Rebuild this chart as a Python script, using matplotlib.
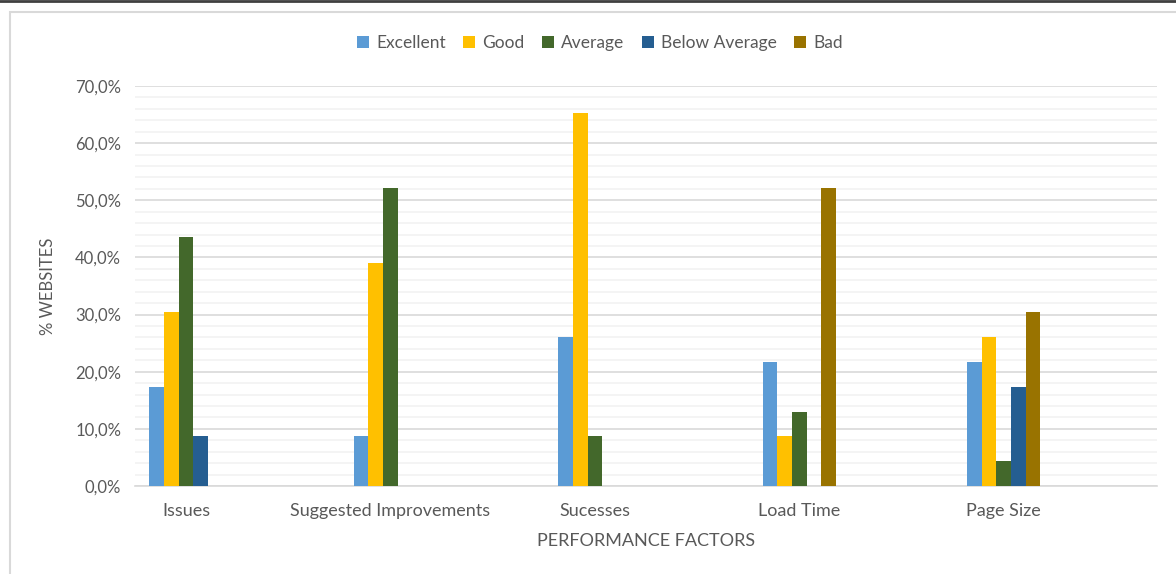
import matplotlib.pyplot as plt
from matplotlib.patches import Rectangle
from matplotlib.ticker import MultipleLocator, FuncFormatter
import numpy as np

plt.rcParams['font.family'] = ['Lato', 'DejaVu Sans']

categories = ["Issues", "Suggested Improvements", "Sucesses", "Load Time", "Page Size"]
series = ["Excellent", "Good", "Average", "Below Average", "Bad"]
excellent = [17.4, 8.7, 26.1, 21.7, 21.7]
good = [30.4, 39.1, 65.2, 8.7, 26.1]
average = [43.5, 52.2, 8.7, 13.0, 4.3]
below_average = [8.7, 0.0, 0.0, 0.0, 17.4]
bad = [0.0, 0.0, 0.0, 52.2, 30.4]
values = [excellent, good, average, below_average, bad]
colors = ["#5B9BD5", "#FFC000", "#43682B", "#255E91", "#997300"]

text_color = "#595959"

fig = plt.figure(figsize=(11.76, 5.74), dpi=100)
ax = fig.add_axes([135 / 1176, 1 - 486 / 574, 1022 / 1176, 400 / 574])

x = np.arange(len(categories))
w = 0.072
for i, (name, vals, c) in enumerate(zip(series, values, colors)):
    ax.bar(x + (i - 2) * w, vals, width=w, color=c, label=name, zorder=3)

ax.set_xlim(-0.25, len(categories) - 0.25)
ax.set_ylim(0, 70)
ax.yaxis.set_major_locator(MultipleLocator(10))
ax.yaxis.set_minor_locator(MultipleLocator(2))
ax.yaxis.set_major_formatter(FuncFormatter(lambda v, p: f"{v:.1f}%".replace(".", ",")))
ax.grid(axis='y', which='major', color="#D9D9D9", linewidth=1.2, zorder=0)
ax.grid(axis='y', which='minor', color="#F2F2F2", linewidth=1.2, zorder=0)
for s in ["top", "right", "left"]:
    ax.spines[s].set_visible(False)
ax.spines["bottom"].set_color("#D9D9D9")
ax.spines["bottom"].set_linewidth(1.2)
ax.tick_params(axis='both', which='both', length=0, colors=text_color, labelsize=12)
ax.tick_params(axis='x', pad=12, labelsize=13)
ax.tick_params(axis='y', pad=10)
ax.set_xticks(x)
ax.set_xticklabels(categories)

ax.set_ylabel("% WEBSITES", color=text_color, fontsize=12, labelpad=14)
ax.set_xlabel("PERFORMANCE FACTORS", color=text_color, fontsize=13, labelpad=10)

ax.legend(loc="center", bbox_to_anchor=(600 / 1176, 1 - 43 / 574), bbox_transform=fig.transFigure,
          ncol=5, frameon=False, fontsize=12.5, labelcolor=text_color,
          handlelength=0.7, handleheight=0.7, handletextpad=0.4, columnspacing=1.0)

# chart border and window edge
fig.add_artist(Rectangle((10 / 1176, -0.05), 1.2, 1 - 12 / 574 + 0.05, transform=fig.transFigure,
                         fill=False, edgecolor="#D9D9D9", linewidth=1.5))
fig.add_artist(plt.Line2D([0, 1], [1 - 1 / 574, 1 - 1 / 574], transform=fig.transFigure,
                          color="#404040", linewidth=2))

fig.savefig("out.png", dpi=100)
